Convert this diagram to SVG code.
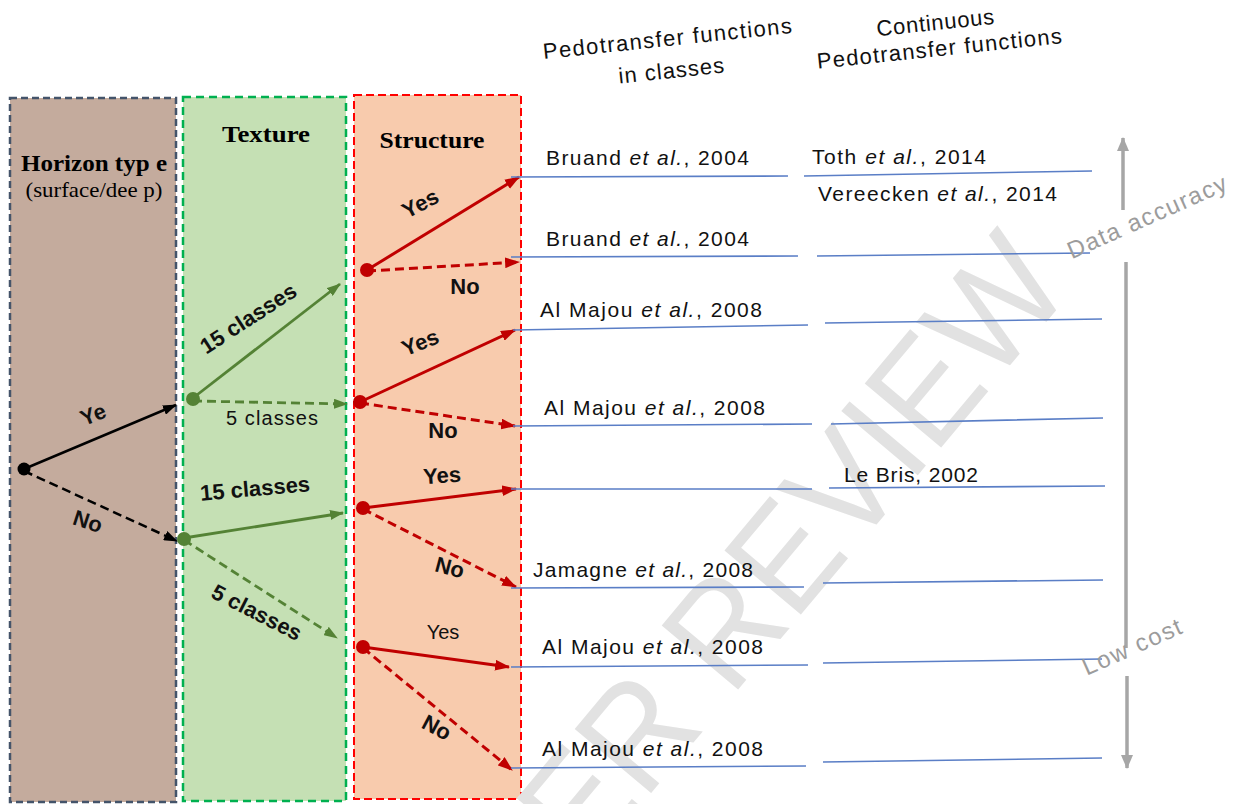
<svg xmlns="http://www.w3.org/2000/svg" width="1241" height="804" viewBox="0 0 1241 804">
<style>
.box-h{fill:#c4ab9d;stroke:#44546a;stroke-width:2.5;stroke-dasharray:7 4}
.box-t{fill:#c5e0b4;stroke:#00b050;stroke-width:2.5;stroke-dasharray:8 5}
.box-s{fill:#f8cbad;stroke:#ff0000;stroke-width:2;stroke-dasharray:8 4}
.hdr{font-family:"Liberation Serif","Times New Roman",serif;font-weight:bold;font-size:24px;fill:#000}
.sub{font-family:"Liberation Serif","Times New Roman",serif;font-size:22px;fill:#000}
.lbl{font-family:"Liberation Sans",Arial,sans-serif;font-weight:bold;font-size:22px;fill:#111}
.lblr{font-family:"Liberation Sans",Arial,sans-serif;font-size:20px;fill:#111}
.ref{font-family:"Liberation Sans",Arial,sans-serif;font-size:21px;fill:#111}
.top{font-family:"Liberation Sans",Arial,sans-serif;font-size:22px;fill:#111}
.gray{font-family:"Liberation Sans",Arial,sans-serif;font-size:24px;fill:#9c9c9c}
.wm{font-family:"Liberation Sans",Arial,sans-serif;font-size:145px;fill:#e2e2e2}
.blk{stroke:#000;stroke-width:2.5;fill:none}
.grn{stroke:#548235;stroke-width:2.8;fill:none}
.red{stroke:#c00000;stroke-width:3;fill:none}
.dash{stroke-dasharray:9 5}
.blue{stroke:#5a7ec6;stroke-width:1.6;fill:none}
.garr{stroke:#a6a6a6;stroke-width:3.5;fill:none}
</style>
<defs>
<marker id="ah-k" viewBox="0 0 14 10" refX="13" refY="5" markerWidth="14" markerHeight="10" markerUnits="userSpaceOnUse" orient="auto"><path d="M0,0 L14,5 L0,10 z" fill="#000"/></marker>
<marker id="ah-g" viewBox="0 0 14 10" refX="13" refY="5" markerWidth="14" markerHeight="10" markerUnits="userSpaceOnUse" orient="auto"><path d="M0,0 L14,5 L0,10 z" fill="#548235"/></marker>
<marker id="ah-r" viewBox="0 0 14 10" refX="13" refY="5" markerWidth="15" markerHeight="11" markerUnits="userSpaceOnUse" orient="auto"><path d="M0,0 L14,5 L0,10 z" fill="#c00000"/></marker>
<marker id="ah-gy" viewBox="0 0 14 12" refX="13" refY="6" markerWidth="14" markerHeight="12" markerUnits="userSpaceOnUse" orient="auto"><path d="M0,0 L14,6 L0,12 z" fill="#a6a6a6"/></marker>
</defs>
<rect width="1241" height="804" fill="#fff"/>

<g id="node-horizon">
<rect class="box-h" x="10" y="98" width="166" height="704"/>
<text class="hdr" x="94" y="171" text-anchor="middle" textLength="146" lengthAdjust="spacingAndGlyphs">Horizon typ e</text>
<text class="sub" x="94" y="197" text-anchor="middle" textLength="137" lengthAdjust="spacingAndGlyphs">(surface/dee p)</text>
</g>
<g id="node-texture">
<rect class="box-t" x="183" y="97" width="163" height="704"/>
<text class="hdr" x="266" y="142" text-anchor="middle" textLength="88" lengthAdjust="spacingAndGlyphs">Texture</text>
</g>
<g id="node-structure">
<rect class="box-s" x="354" y="95" width="167" height="704"/>
<text class="hdr" x="432" y="148" text-anchor="middle" textLength="105" lengthAdjust="spacingAndGlyphs">Structure</text>
</g>

<g id="watermark">
<text class="wm" transform="translate(772,649) rotate(-50)" text-anchor="middle" textLength="940" lengthAdjust="spacingAndGlyphs">PEER REVIEW</text>
</g>

<g id="headers">
<text class="top" transform="translate(668,46) rotate(-6)" text-anchor="middle" textLength="250">Pedotransfer functions</text>
<text class="top" transform="translate(672,78) rotate(-6)" text-anchor="middle" textLength="106">in classes</text>
<text class="top" transform="translate(936,30) rotate(-6)" text-anchor="middle" textLength="118">Continuous</text>
<text class="top" transform="translate(940,56) rotate(-6)" text-anchor="middle" textLength="246">Pedotransfer functions</text>
</g>

<g id="connectors">
<path class="blk" d="M24,469 L176,405" marker-end="url(#ah-k)"/>
<path class="blk dash" d="M24,471 L177,541" marker-end="url(#ah-k)"/>
<path class="grn" d="M193,398 L340,284" marker-end="url(#ah-g)"/>
<path class="grn dash" d="M193,401 L347,404" marker-end="url(#ah-g)"/>
<path class="grn" d="M184,538 L343,513" marker-end="url(#ah-g)"/>
<path class="grn dash" d="M184,540 L337,638" marker-end="url(#ah-g)"/>
<path class="red" d="M367,270 L519,177" marker-end="url(#ah-r)"/>
<path class="red dash" d="M367,271 L519,262" marker-end="url(#ah-r)"/>
<path class="red" d="M360,402 L515,330" marker-end="url(#ah-r)"/>
<path class="red dash" d="M360,403 L515,426" marker-end="url(#ah-r)"/>
<path class="red" d="M363,508 L516,489" marker-end="url(#ah-r)"/>
<path class="red dash" d="M363,509 L516,587" marker-end="url(#ah-r)"/>
<path class="red" d="M363,647 L509,667" marker-end="url(#ah-r)"/>
<path class="red dash" d="M363,648 L512,770" marker-end="url(#ah-r)"/>
<path class="blue" d="M511,177 L788,176 M804,176 L1092,171"/>
<path class="blue" d="M511,257 L798,256 M817,256 L1090,253"/>
<path class="blue" d="M513,330 L808,325 M825,323 L1102,319"/>
<path class="blue" d="M513,426 L812,424 M831,424 L1103,418"/>
<path class="blue" d="M511,489 L812,489 M829,488 L1105,486"/>
<path class="blue" d="M511,588 L804,587 M823,583 L1103,580"/>
<path class="blue" d="M511,667 L808,665 M823,663 L1102,659"/>
<path class="blue" d="M511,768 L806,766 M823,762 L1102,758"/>
<path class="garr" d="M1123,210 L1123,138" marker-end="url(#ah-gy)"/>
<path class="garr" d="M1126,262 L1126,648"/>
<path class="garr" d="M1127,676 L1127,768" marker-end="url(#ah-gy)"/>
</g>

<g id="decision-dots">
<circle cx="24" cy="469" r="6.5" fill="#000"/>
<circle cx="193" cy="399" r="7" fill="#548235"/>
<circle cx="184" cy="539" r="7" fill="#548235"/>
<circle cx="367" cy="270" r="7" fill="#c00000"/>
<circle cx="360" cy="402" r="7" fill="#c00000"/>
<circle cx="363" cy="508" r="7" fill="#c00000"/>
<circle cx="363" cy="647" r="7" fill="#c00000"/>
</g>

<g id="edge-labels">
<text class="lbl" transform="translate(93,414) rotate(-22)" y="8" text-anchor="middle">Ye</text>
<text class="lbl" transform="translate(88,521) rotate(18)" y="8" text-anchor="middle">No</text>
<text class="lbl" transform="translate(248,318) rotate(-33)" y="8" text-anchor="middle">15 classes</text>
<text class="lblr" transform="translate(272,418)" y="7" text-anchor="middle" textLength="92">5 classes</text>
<text class="lbl" transform="translate(255,488) rotate(-5)" y="8" text-anchor="middle">15 classes</text>
<text class="lbl" transform="translate(257,612) rotate(27)" y="8" text-anchor="middle">5 classes</text>
<text class="lbl" transform="translate(420,203) rotate(-28)" y="8" text-anchor="middle">Yes</text>
<text class="lbl" transform="translate(465,286)" y="8" text-anchor="middle">No</text>
<text class="lbl" transform="translate(420,342) rotate(-22)" y="8" text-anchor="middle">Yes</text>
<text class="lbl" transform="translate(443,430)" y="8" text-anchor="middle">No</text>
<text class="lbl" transform="translate(442,475) rotate(-4)" y="8" text-anchor="middle">Yes</text>
<text class="lbl" transform="translate(450,567) rotate(15)" y="8" text-anchor="middle">No</text>
<text class="lblr" transform="translate(443,632)" y="7" text-anchor="middle">Yes</text>
<text class="lbl" transform="translate(437,727) rotate(28)" y="8" text-anchor="middle">No</text>
</g>

<g id="ptf-classes">
<text class="ref" x="546" y="165" textLength="203">Bruand <tspan font-style="italic">et al.</tspan>, 2004</text>
<text class="ref" x="546" y="246" textLength="203">Bruand <tspan font-style="italic">et al.</tspan>, 2004</text>
<text class="ref" x="540" y="317" textLength="222">Al Majou <tspan font-style="italic">et al.</tspan>, 2008</text>
<text class="ref" x="544" y="415" textLength="221">Al Majou <tspan font-style="italic">et al.</tspan>, 2008</text>
<text class="ref" x="533" y="577" textLength="220">Jamagne <tspan font-style="italic">et al.</tspan>, 2008</text>
<text class="ref" x="542" y="654" textLength="221">Al Majou <tspan font-style="italic">et al.</tspan>, 2008</text>
<text class="ref" x="542" y="756" textLength="221">Al Majou <tspan font-style="italic">et al.</tspan>, 2008</text>
</g>
<g id="ptf-continuous">
<text class="ref" x="812" y="164" textLength="174">Toth <tspan font-style="italic">et al.</tspan>, 2014</text>
<text class="ref" x="818" y="201" textLength="239">Vereecken <tspan font-style="italic">et al.</tspan>, 2014</text>
<text class="ref" x="844" y="482" textLength="134">Le Bris, 2002</text>
</g>

<g id="axis-labels">
<text class="gray" transform="translate(1147,217) rotate(-24)" y="8" text-anchor="middle" textLength="172">Data accuracy</text>
<text class="gray" transform="translate(1132,647) rotate(-24)" y="8" text-anchor="middle" textLength="106">Low cost</text>
</g>
</svg>
